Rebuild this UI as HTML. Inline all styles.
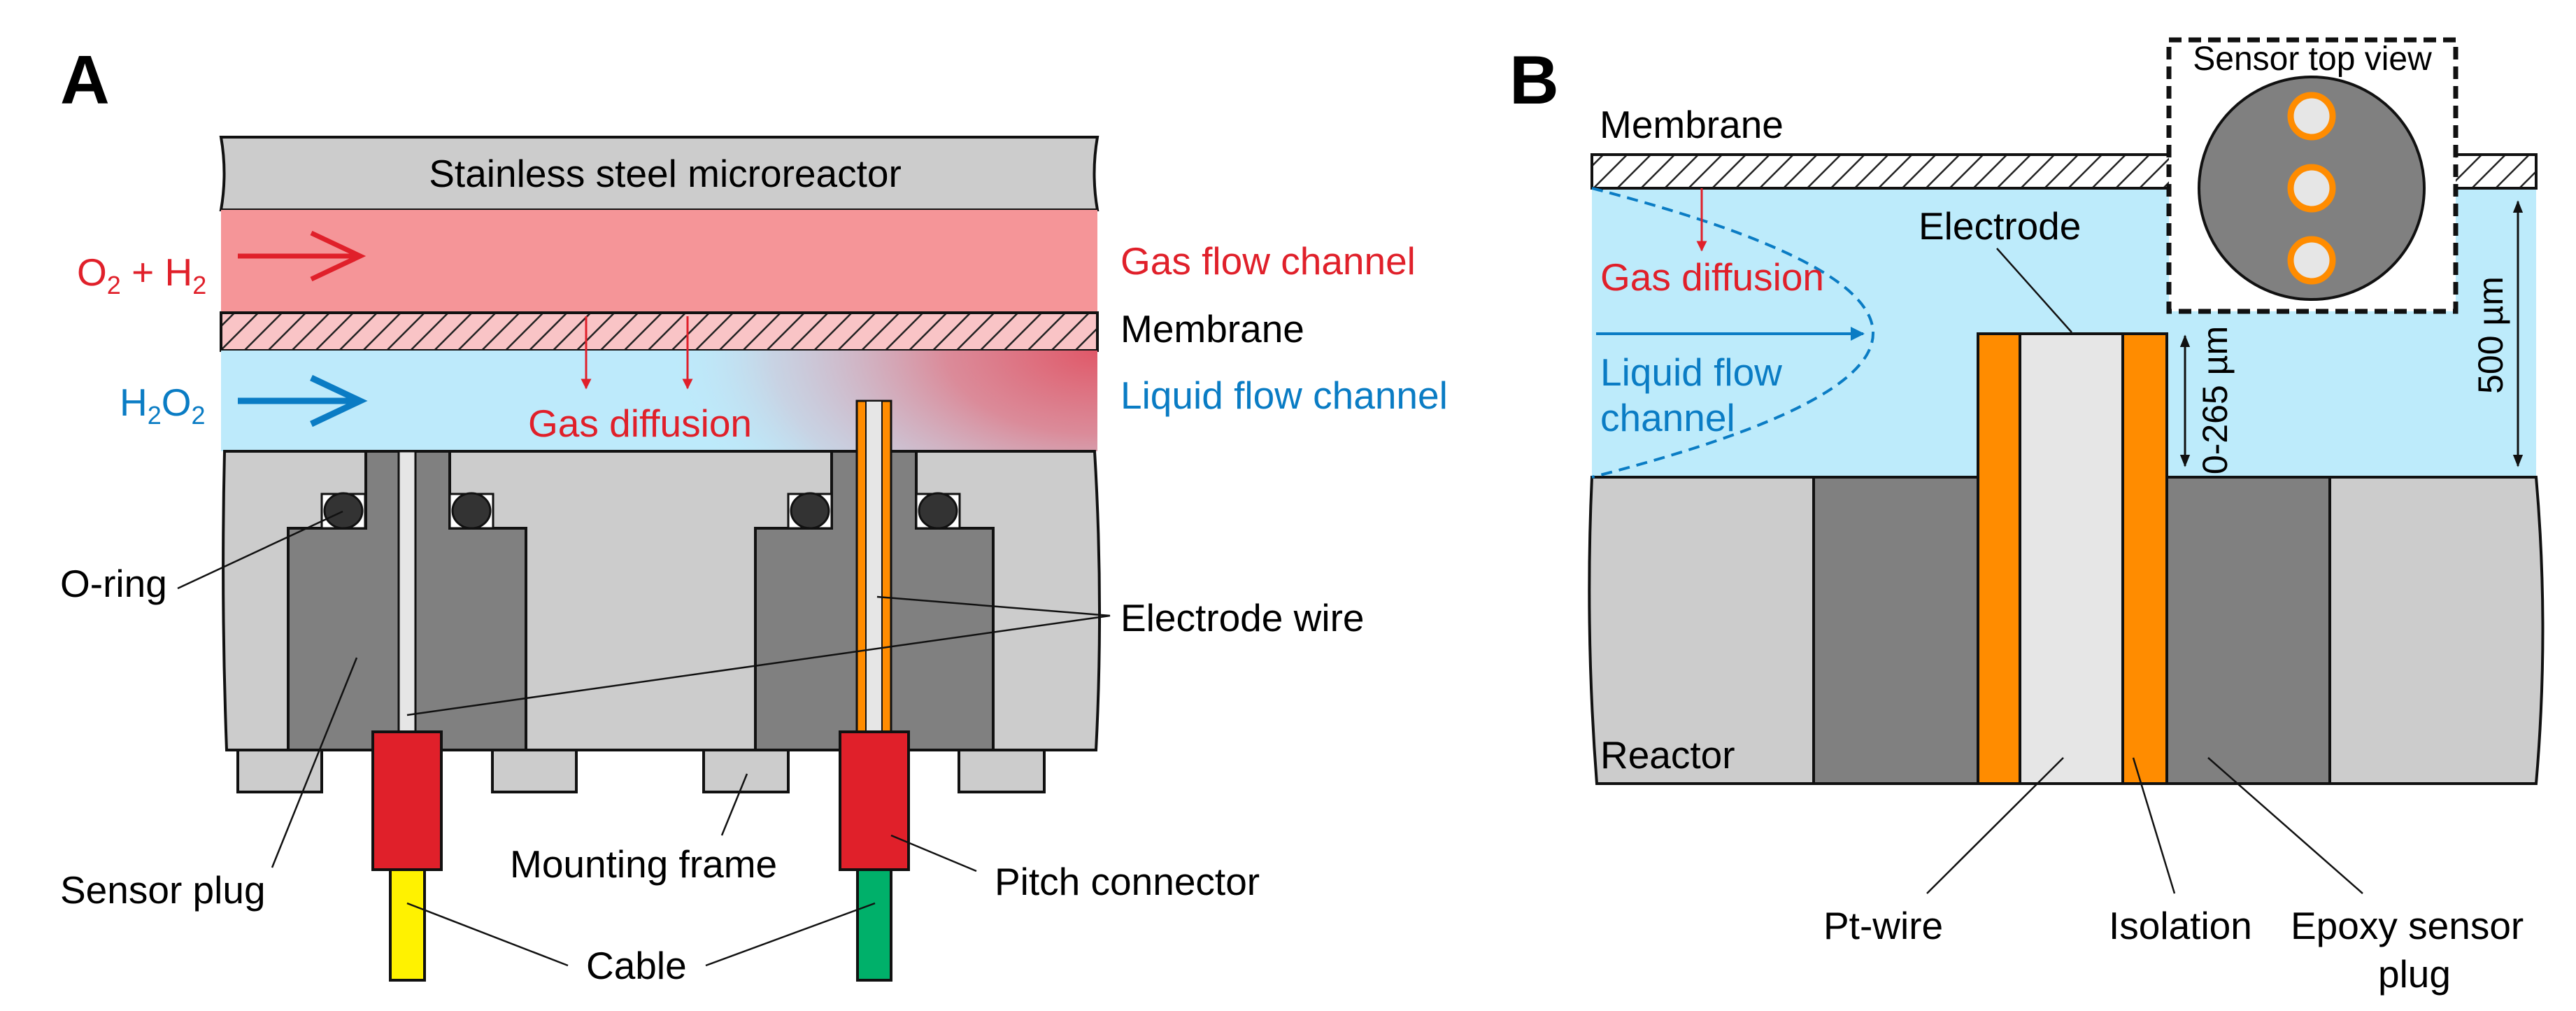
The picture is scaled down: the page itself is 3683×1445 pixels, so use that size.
<!DOCTYPE html>
<html><head><meta charset="utf-8"><style>
html,body{margin:0;padding:0;background:#fff;width:3683px;height:1445px;overflow:hidden}
svg{display:block}
text{font-family:"Liberation Sans",Arial,sans-serif;font-size:55px}
</style></head><body>
<svg width="3683" height="1445" viewBox="0 0 3683 1445" xmlns="http://www.w3.org/2000/svg">
<defs>
<pattern id="hp" patternUnits="userSpaceOnUse" width="24" height="24" patternTransform="rotate(45)">
<rect width="24" height="24" fill="#f9c4c6"/><line x1="0" y1="0" x2="0" y2="24" stroke="#222" stroke-width="5"/></pattern>
<pattern id="hw" patternUnits="userSpaceOnUse" width="24" height="24" patternTransform="rotate(45)">
<rect width="24" height="24" fill="#fff"/><line x1="0" y1="0" x2="0" y2="24" stroke="#222" stroke-width="5"/></pattern>
<radialGradient id="rg" gradientUnits="userSpaceOnUse" cx="1569" cy="501" r="620" gradientTransform="translate(1569,501) scale(1,0.55) translate(-1569,-501)">
<stop offset="0" stop-color="#e05868" stop-opacity="1"/><stop offset="0.35" stop-color="#e07a88" stop-opacity="0.85"/><stop offset="0.75" stop-color="#d8b0c0" stop-opacity="0.4"/><stop offset="1" stop-color="#bdeafb" stop-opacity="0"/></radialGradient>
<marker id="ar" viewBox="0 0 10 10" refX="9" refY="5" markerWidth="5" markerHeight="5" orient="auto"><path d="M0,0 L10,5 L0,10 z" fill="#e0202a"/></marker>
<marker id="ab" viewBox="0 0 10 10" refX="9" refY="5" markerWidth="5" markerHeight="5" orient="auto"><path d="M0,0 L10,5 L0,10 z" fill="#0a7cc4"/></marker>
<marker id="ak" viewBox="0 0 10 10" refX="9" refY="5" markerWidth="6" markerHeight="6" orient="auto-start-reverse"><path d="M0,1 L10,5 L0,9 z" fill="#111"/></marker>
</defs>

<!-- PANEL A -->
<text x="86" y="148" font-weight="bold" style="font-size:98px">A</text>
<path d="M316,196 L1569,196 Q1560,248 1569,300 L316,300 Q325,248 316,196 Z" fill="#cccccc" stroke="#111" stroke-width="4"/>
<text x="951" y="267" text-anchor="middle">Stainless steel microreactor</text>
<rect x="316" y="300" width="1253" height="146" fill="#f59598"/>
<rect x="316" y="447" width="1253" height="54" fill="url(#hp)" stroke="#111" stroke-width="4"/>
<rect x="316" y="501" width="1253" height="144" fill="#bdeafb"/>
<rect x="316" y="501" width="1253" height="144" fill="url(#rg)"/>
<!-- arrows -->
<g stroke="#e0202a" stroke-width="7" fill="none"><line x1="340" y1="366" x2="515" y2="366"/><polyline points="445,333 515,366 445,399"/></g>
<g stroke="#0a7cc4" stroke-width="9" fill="none"><line x1="340" y1="573" x2="515" y2="573"/><polyline points="445,540 515,573 445,606"/></g>
<g stroke="#e0202a" stroke-width="3"><line x1="838" y1="452" x2="838" y2="555" marker-end="url(#ar)"/><line x1="983" y1="452" x2="983" y2="555" marker-end="url(#ar)"/></g>
<text x="755" y="624" fill="#e0202a">Gas diffusion</text>
<text x="110" y="408" fill="#e0202a">O<tspan font-size="36" dy="12">2</tspan><tspan dy="-12"> + H</tspan><tspan font-size="36" dy="12">2</tspan></text>
<text x="171" y="594" fill="#0a7cc4">H<tspan font-size="36" dy="12">2</tspan><tspan dy="-12">O</tspan><tspan font-size="36" dy="12">2</tspan></text>
<!-- lower block -->
<path d="M321,645 L1565,645 Q1578,860 1567,1072 L324,1072 Q316,860 321,645 Z" fill="#cccccc" stroke="#111" stroke-width="4"/>
<!-- mounting frames -->
<g fill="#cccccc" stroke="#111" stroke-width="4">
<rect x="340" y="1072" width="120" height="60"/><rect x="704" y="1072" width="120" height="60"/>
<rect x="1006" y="1072" width="121" height="60"/><rect x="1371" y="1072" width="122" height="60"/></g>
<!-- plug 1 -->
<path d="M412,1072 L412,755 L523,755 L523,645 L643,645 L643,755 L752,755 L752,1072 Z" fill="#808080" stroke="#111" stroke-width="4"/>
<rect x="570" y="645" width="24" height="401" fill="#e6e6e6" stroke="#111" stroke-width="3"/>
<!-- plug 2 -->
<path d="M1080,1072 L1080,755 L1189,755 L1189,645 L1310,645 L1310,755 L1420,755 L1420,1072 Z" fill="#808080" stroke="#111" stroke-width="4"/>
<rect x="1225" y="573" width="49" height="473" fill="#ff8c00" stroke="#111" stroke-width="3"/>
<rect x="1238" y="573" width="23" height="473" fill="#e6e6e6" stroke="#111" stroke-width="2"/>
<!-- o-rings -->
<g stroke="#111" stroke-width="3">
<rect x="460" y="706" width="62" height="49" fill="#fff"/><ellipse cx="491" cy="730" rx="27" ry="25" fill="#333"/>
<rect x="643" y="706" width="62" height="49" fill="#fff"/><ellipse cx="674" cy="730" rx="27" ry="25" fill="#333"/>
<rect x="1127" y="706" width="62" height="49" fill="#fff"/><ellipse cx="1158" cy="730" rx="27" ry="25" fill="#333"/>
<rect x="1310" y="706" width="62" height="49" fill="#fff"/><ellipse cx="1341" cy="730" rx="27" ry="25" fill="#333"/></g>
<!-- connectors -->
<g stroke="#111" stroke-width="4">
<rect x="533" y="1046" width="98" height="197" fill="#e0202a"/><rect x="1201" y="1046" width="98" height="197" fill="#e0202a"/>
<rect x="558" y="1243" width="49" height="158" fill="#fff200"/><rect x="1226" y="1243" width="48" height="158" fill="#00b06a"/></g>
<!-- right labels A -->
<text x="1602" y="392" fill="#e0202a">Gas flow channel</text>
<text x="1602" y="489">Membrane</text>
<text x="1602" y="584" fill="#0a7cc4">Liquid flow channel</text>
<text x="1602" y="902">Electrode wire</text>
<text x="86" y="853">O-ring</text>
<text x="86" y="1291">Sensor plug</text>
<text x="729" y="1254">Mounting frame</text>
<text x="1422" y="1279">Pitch connector</text>
<text x="838" y="1399">Cable</text>
<g stroke="#111" stroke-width="2.5" fill="none">
<line x1="254" y1="841" x2="490" y2="731"/>
<line x1="389" y1="1240" x2="510" y2="940"/>
<polyline points="1254,853 1587,880 582,1022"/>
<line x1="1032" y1="1194" x2="1068" y2="1106"/>
<line x1="1396" y1="1245" x2="1274" y2="1194"/>
<line x1="812" y1="1380" x2="582" y2="1291"/>
<line x1="1009" y1="1380" x2="1251" y2="1291"/></g>

<!-- PANEL B -->
<text x="2158" y="148" font-weight="bold" style="font-size:98px">B</text>
<text x="2287" y="197">Membrane</text>
<rect x="2276" y="269" width="1350" height="413" fill="#bdebfb"/>
<rect x="2276" y="221" width="1350" height="48" fill="url(#hw)" stroke="#111" stroke-width="4"/>
<!-- reactor -->
<path d="M2276,682 L2593,682 L2593,1120 L2283,1120 Q2266,900 2276,682 Z" fill="#cccccc" stroke="#111" stroke-width="4"/>
<path d="M3331,682 L3626,682 Q3645,900 3626,1120 L3331,1120 Z" fill="#cccccc" stroke="#111" stroke-width="4"/>
<rect x="2593" y="682" width="235" height="438" fill="#808080" stroke="#111" stroke-width="4"/>
<rect x="3098" y="682" width="233" height="438" fill="#808080" stroke="#111" stroke-width="4"/>
<rect x="2828" y="477" width="60" height="643" fill="#ff8c00" stroke="#111" stroke-width="4"/>
<rect x="2888" y="477" width="147" height="643" fill="#e6e6e6" stroke="#111" stroke-width="4"/>
<rect x="3035" y="477" width="63" height="643" fill="#ff8c00" stroke="#111" stroke-width="4"/>
<!-- parabola -->
<path d="M2276,269 Q3080,477 2276,682" fill="none" stroke="#0a7cc4" stroke-width="4" stroke-dasharray="16,10"/>
<line x1="2433" y1="269" x2="2433" y2="358" stroke="#e0202a" stroke-width="3" marker-end="url(#ar)"/>
<text x="2288" y="415" fill="#e0202a">Gas diffusion</text>
<line x1="2282" y1="477" x2="2664" y2="477" stroke="#0a7cc4" stroke-width="4" marker-end="url(#ab)"/>
<text x="2288" y="551" fill="#0a7cc4">Liquid flow</text>
<text x="2288" y="616" fill="#0a7cc4">channel</text>
<text x="2743" y="342">Electrode</text>
<line x1="2855" y1="355" x2="2962" y2="475" stroke="#111" stroke-width="2.5"/>
<!-- dims -->
<line x1="3124" y1="480" x2="3124" y2="666" stroke="#111" stroke-width="3" marker-start="url(#ak)" marker-end="url(#ak)"/>
<text transform="translate(3184,572) rotate(-90)" text-anchor="middle" style="font-size:50px">0-265 µm</text>
<line x1="3600" y1="288" x2="3600" y2="666" stroke="#111" stroke-width="3" marker-start="url(#ak)" marker-end="url(#ak)"/>
<text transform="translate(3578,479) rotate(-90)" text-anchor="middle" style="font-size:50px">500 µm</text>
<!-- top view -->
<rect x="3101" y="57" width="410" height="388" fill="#fff" stroke="#111" stroke-width="7" stroke-dasharray="18,10"/>
<text x="3306" y="100" text-anchor="middle" style="font-size:48px">Sensor top view</text>
<ellipse cx="3305" cy="269" rx="161" ry="159" fill="#808080" stroke="#111" stroke-width="4"/>
<g fill="#e6e6e6" stroke="#ff8c00" stroke-width="9">
<circle cx="3305" cy="166" r="30"/><circle cx="3305" cy="269" r="30"/><circle cx="3305" cy="372" r="30"/></g>
<text x="2288" y="1098">Reactor</text>
<text x="2607" y="1342">Pt-wire</text>
<text x="3015" y="1342">Isolation</text>
<text x="3275" y="1342">Epoxy sensor</text>
<text x="3452" y="1411" text-anchor="middle">plug</text>
<g stroke="#111" stroke-width="2.5">
<line x1="2755" y1="1277" x2="2950" y2="1083"/>
<line x1="3109" y1="1277" x2="3050" y2="1083"/>
<line x1="3378" y1="1277" x2="3157" y2="1083"/></g>
</svg>
</body></html>
